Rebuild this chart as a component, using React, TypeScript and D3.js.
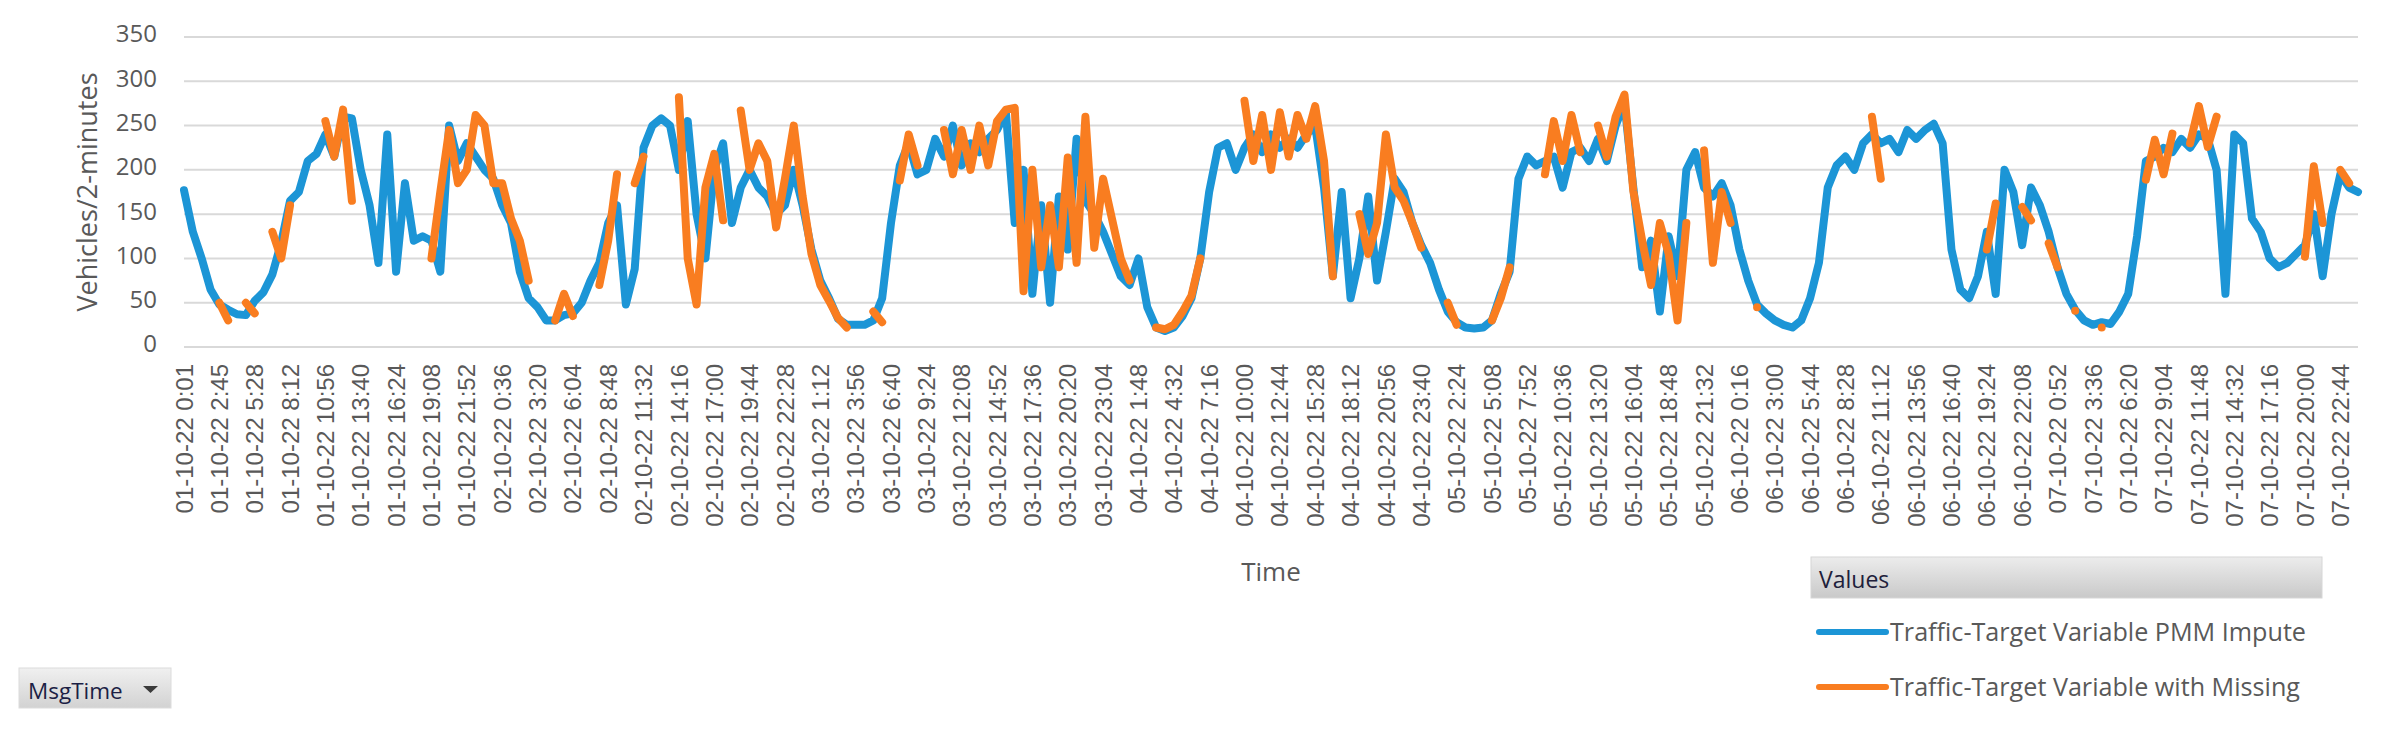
import * as d3 from "d3";

// one label every 82 samples (2-minute traffic counts)
const tickLabels = [
  "01-10-22 0:01", "01-10-22 2:45", "01-10-22 5:28", "01-10-22 8:12", "01-10-22 10:56", "01-10-22 13:40", "01-10-22 16:24", "01-10-22 19:08", "01-10-22 21:52",
  "02-10-22 0:36", "02-10-22 3:20", "02-10-22 6:04", "02-10-22 8:48", "02-10-22 11:32", "02-10-22 14:16", "02-10-22 17:00", "02-10-22 19:44", "02-10-22 22:28",
  "03-10-22 1:12", "03-10-22 3:56", "03-10-22 6:40", "03-10-22 9:24", "03-10-22 12:08", "03-10-22 14:52", "03-10-22 17:36", "03-10-22 20:20", "03-10-22 23:04",
  "04-10-22 1:48", "04-10-22 4:32", "04-10-22 7:16", "04-10-22 10:00", "04-10-22 12:44", "04-10-22 15:28", "04-10-22 18:12", "04-10-22 20:56", "04-10-22 23:40",
  "05-10-22 2:24", "05-10-22 5:08", "05-10-22 7:52", "05-10-22 10:36", "05-10-22 13:20", "05-10-22 16:04", "05-10-22 18:48", "05-10-22 21:32",
  "06-10-22 0:16", "06-10-22 3:00", "06-10-22 5:44", "06-10-22 8:28", "06-10-22 11:12", "06-10-22 13:56", "06-10-22 16:40", "06-10-22 19:24", "06-10-22 22:08",
  "07-10-22 0:52", "07-10-22 3:36", "07-10-22 6:20", "07-10-22 9:04", "07-10-22 11:48", "07-10-22 14:32", "07-10-22 17:16", "07-10-22 20:00", "07-10-22 22:44",
];

// values read every quarter of a label step
const step = 0.25;

const pmmImpute = [
  177, 130, 100, 65, 48, 42, 37, 36,
  52, 62, 82, 118, 165, 175, 210, 218,
  240, 215, 260, 258, 200, 160, 95, 240,
  85, 185, 120, 125, 120, 85, 250, 210,
  230, 215, 200, 190, 160, 140, 85, 55,
  45, 30, 30, 36, 38, 50, 75, 95,
  140, 160, 48, 88, 225, 250, 258, 250,
  200, 255, 150, 100, 200, 230, 140, 180,
  200, 180, 170, 150, 160, 200, 160, 110,
  75, 55, 32, 25, 25, 25, 30, 55,
  140, 205, 230, 195, 200, 235, 215, 250,
  205, 230, 220, 235, 245, 265, 140, 200,
  60, 160, 50, 170, 110, 235, 165, 150,
  130, 105, 80, 70, 100, 45, 22, 18,
  22, 35, 55, 100, 175, 225, 230, 200,
  225, 240, 220, 240, 225, 235, 225, 240,
  250, 180, 80, 175, 55, 100, 170, 75,
  130, 190, 175, 140, 115, 95, 65, 40,
  28, 22, 21, 22, 30, 60, 85, 190,
  215, 205, 210, 215, 180, 220, 225, 210,
  235, 210, 250, 275, 180, 90, 120, 40,
  125, 80, 200, 220, 180, 170, 185, 160,
  110, 75, 48, 38, 30, 25, 22, 30,
  55, 95, 180, 205, 215, 200, 230, 240,
  230, 235, 220, 245, 235, 245, 252, 230,
  110, 65, 55, 80, 130, 60, 200, 175,
  115, 180, 160, 130, 90, 60, 42, 30,
  25, 28, 26, 40, 60, 125, 210, 215,
  225, 220, 235, 225, 240, 235, 200, 60,
  240, 230, 145, 130, 100, 90, 95, 105,
  115, 150, 80, 150, 195, 180, 175,
];

const withMissing: (number | null)[] = [
  null, null, null, null, 50, 30, null, 50,
  38, null, 130, 100, 160, null, null, null,
  255, 215, 268, 165, null, null, null, null,
  null, null, null, null, 100, 175, 245, 185,
  200, 262, 250, 185, 185, 145, 120, 75,
  null, null, 30, 60, 35, null, null, 70,
  120, 195, null, 185, 215, null, null, null,
  282, 100, 48, 180, 218, 143, null, 267,
  200, 230, 210, 135, 190, 250, 170, 105,
  70, 52, 33, 22, null, null, 40, 28,
  null, 188, 240, 205, null, null, 245, 195,
  245, 200, 250, 205, 255, 268, 270, 63,
  200, 90, 160, 90, 214, 95, 260, 112,
  190, 145, 100, 75, null, null, 22, 20,
  25, 40, 58, 100, null, null, null, null,
  278, 210, 262, 200, 265, 215, 262, 235,
  272, 210, 80, null, null, 150, 105, 140,
  240, 180, 165, 140, 112, null, null, 50,
  25, null, null, null, 30, 55, 90, null,
  null, null, 195, 255, 210, 262, 220, null,
  250, 215, 260, 285, 176, 120, 70, 140,
  105, 30, 140, null, 222, 95, 175, 140,
  null, null, 45, null, null, null, null, null,
  null, null, null, null, null, null, null, 260,
  190, null, null, null, null, null, null, null,
  null, null, null, null, 110, 162, null, null,
  158, 143, null, 117, 90, null, 41, null,
  null, 22, null, null, null, null, 189, 234,
  195, 241, null, 230, 272, 226, 260, null,
  null, null, null, null, null, null, null, null,
  102, 204, 140, null, 200, 185, null,
];

const yTicks = [0, 50, 100, 150, 200, 250, 300, 350];

const seriesNames = [
  "Traffic-Target Variable PMM Impute",
  "Traffic-Target Variable with Missing",
];
const colors = ["#1c95d6", "#f97d20"];

const grey = "#595959";
const sans = "'Open Sans', 'Noto Sans', sans-serif";

export default function App() {
  const width = 2382;
  const height = 731;

  const x = d3.scaleLinear([0, 61.5], [184, 2358]);
  const y = d3.scaleLinear([0, 350], [347, 37]);

  const line = d3
    .line<number | null>()
    .defined((d) => d != null)
    .x((d, i) => x(i * step))
    .y((d) => y(d as number));

  const legendY = d3.scalePoint(seriesNames, [632, 687]);

  return (
    <div style={{ position: "fixed", left: 0, top: 0 }}>
      <svg width={width} height={height} style={{ display: "block", background: "#fff" }}>
        <defs>
          <linearGradient id="hdr" x1="0" y1="0" x2="0" y2="1">
            <stop offset="0" stopColor="#ececec" />
            <stop offset="1" stopColor="#c9c9c9" />
          </linearGradient>
          <linearGradient id="btn" x1="0" y1="0" x2="0" y2="1">
            <stop offset="0" stopColor="#f0f0f0" />
            <stop offset="1" stopColor="#d2d2d2" />
          </linearGradient>
        </defs>

        {/* gridlines + y ticks */}
        {yTicks.map((t) => (
          <g key={t}>
            <line x1={x(0)} x2={x(61.5)} y1={y(t)} y2={y(t)} stroke="#d9d9d9" strokeWidth={2} />
            <text
              x={157}
              y={y(t) - 3}
              dy="0.35em"
              textAnchor="end"
              fontFamily={sans}
              fontSize={24}
              fill={grey}
            >
              {t}
            </text>
          </g>
        ))}

        <text
          transform={`translate(88,${y(175)}) rotate(-90)`}
          dy="0.35em"
          textAnchor="middle"
          fontFamily={sans}
          fontSize={27}
          fill={grey}
        >
          Vehicles/2-minutes
        </text>

        {/* x tick labels */}
        {tickLabels.map((lab, i) => (
          <text
            key={i}
            transform={`translate(${x(i)},364) rotate(-90)`}
            dy="0.36em"
            textAnchor="end"
            fontFamily="'Liberation Sans', Arial, sans-serif"
            fontSize={24}
            fill={grey}
          >
            {lab}
          </text>
        ))}

        <text
          x={(x(0) + x(61.5)) / 2}
          y={572}
          dy="0.35em"
          textAnchor="middle"
          fontFamily={sans}
          fontSize={26}
          fill={grey}
        >
          Time
        </text>

        {/* series */}
        <path
          d={line(pmmImpute) ?? ""}
          fill="none"
          stroke={colors[0]}
          strokeWidth={8}
          strokeLinejoin="round"
          strokeLinecap="round"
        />
        <path
          d={line(withMissing) ?? ""}
          fill="none"
          stroke={colors[1]}
          strokeWidth={8}
          strokeLinejoin="round"
          strokeLinecap="round"
        />

        {/* legend */}
        <rect x={1811} y={557} width={511} height={41} fill="url(#hdr)" stroke="#d6d6d6" />
        <text x={1819} y={588} fontFamily={sans} fontSize={23} fill="#20203a">
          Values
        </text>
        {seriesNames.map((name, i) => (
          <g key={name}>
            <line
              x1={1819}
              x2={1886}
              y1={legendY(name)}
              y2={legendY(name)}
              stroke={colors[i]}
              strokeWidth={6}
              strokeLinecap="round"
            />
            <text
              x={1890}
              y={legendY(name)}
              dy="0.35em"
              fontFamily={sans}
              fontSize={25}
              fill={grey}
              textLength={i === 0 ? 416 : 410}
              lengthAdjust="spacingAndGlyphs"
            >
              {name}
            </text>
          </g>
        ))}

        {/* field button */}
        <rect x={19} y={668} width={152} height={40} fill="url(#btn)" stroke="#dcdcdc" />
        <text x={28} y={699} fontFamily={sans} fontSize={22.5} fill="#1c1f45">
          MsgTime
        </text>
        <path d="M143,686 L158,686 L150.5,693 Z" fill="#3a3a3a" />
      </svg>
    </div>
  );
}
